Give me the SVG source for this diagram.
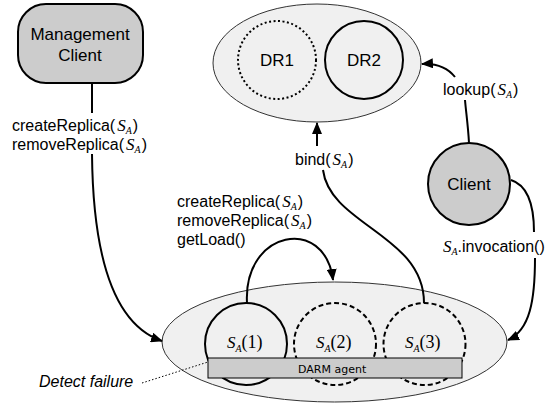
<svg xmlns="http://www.w3.org/2000/svg" width="556" height="405" viewBox="0 0 556 405">
<style>
  .node { fill: #cccccc; stroke: #000; stroke-width: 2; }
  .group { fill: #f0f0f0; stroke: #333; stroke-width: 1; }
  .c { fill: none; stroke: #000; stroke-width: 2; }
  .dot { stroke-dasharray: 2 2.5; }
  .dash { stroke-dasharray: 5 3; }
  .t { font-family: "Liberation Sans", Arial, sans-serif; font-size: 17px; fill: #000; text-anchor: middle; }
  .lbl { font-family: "Liberation Sans", Arial, sans-serif; font-size: 16px; fill: #000; }
  .m { font-family: "Liberation Serif", "Times New Roman", serif; font-style: italic; font-size: 17px; }
  .sub { font-family: "Liberation Serif", "Times New Roman", serif; font-style: italic; font-size: 10px; }
  .mr { font-family: "Liberation Serif", "Times New Roman", serif; font-size: 18px; }
  .conn { fill: none; stroke: #000; stroke-width: 2; }
</style>
<defs>
  <marker id="arr" viewBox="0 0 12 10" refX="11" refY="5" markerWidth="12" markerHeight="10" markerUnits="userSpaceOnUse" orient="auto">
    <path d="M0,0 L12,5 L0,10 Z" fill="#000"/>
  </marker>
</defs>

<g id="dr-group">
  <ellipse class="group" cx="317" cy="63" rx="104" ry="59"/>
</g>
<g id="dr1">
  <circle class="c dot" cx="277" cy="60" r="39"/>
  <text class="t" x="277" y="66">DR1</text>
</g>
<g id="dr2">
  <circle class="c" cx="364" cy="60" r="39"/>
  <text class="t" x="364" y="66">DR2</text>
</g>

<g id="management-client">
  <rect class="node" x="18" y="4" width="125" height="79" rx="28" ry="28"/>
  <text class="t" x="80" y="40">Management</text>
  <text class="t" x="80" y="61">Client</text>
</g>

<g id="client">
  <circle class="node" cx="469" cy="184" r="41"/>
  <text class="t" x="469" y="190">Client</text>
</g>

<g id="server-group">
  <ellipse class="group" cx="334.5" cy="342" rx="172.5" ry="60"/>
</g>
<g id="sa1">
  <circle class="c" cx="246" cy="344" r="41"/>
</g>
<g id="sa2">
  <circle class="c dash" cx="335" cy="344" r="41"/>
</g>
<g id="sa3">
  <circle class="c dash" cx="424.5" cy="344" r="41"/>
</g>
<g id="darm-agent">
  <rect x="208" y="358" width="254" height="20" fill="#cccccc" stroke="#000" stroke-width="1"/>
  <text x="298" y="373" font-family="'DejaVu Sans', sans-serif" font-size="11" fill="#000">DARM agent</text>
</g>
<g id="sa-labels">
  <text x="227" y="348"><tspan class="m">S</tspan><tspan class="sub" dy="4">A</tspan><tspan class="mr" dy="-4">(1)</tspan></text>
  <text x="316" y="348"><tspan class="m">S</tspan><tspan class="sub" dy="4">A</tspan><tspan class="mr" dy="-4">(2)</tspan></text>
  <text x="405" y="348"><tspan class="m">S</tspan><tspan class="sub" dy="4">A</tspan><tspan class="mr" dy="-4">(3)</tspan></text>
</g>

<g id="connectors">
  <path class="conn" d="M92 83 V113"/>
  <path class="conn" d="M92 154 C93 260 115 325 162 341" marker-end="url(#arr)"/>
  <path class="conn" d="M247 303 C243 230 325 215 333 280" marker-end="url(#arr)"/>
  <path class="conn" d="M424 303 C424 235 330 225 323 170"/>
  <path class="conn" d="M317 146 V123" marker-end="url(#arr)"/>
  <path class="conn" d="M469 143 C468 125 466 112 465 100"/>
  <path class="conn" d="M455 77 C448 68 438 63 422 64" marker-end="url(#arr)"/>
  <path class="conn" d="M511 180 C530 186 534 210 534 232"/>
  <path class="conn" d="M535 258 C535 300 530 330 508 340" marker-end="url(#arr)"/>
  <path d="M142 383 L208 362" fill="none" stroke="#000" stroke-width="1" stroke-dasharray="1.5 2"/>
</g>

<g id="labels">
  <text class="lbl" x="12" y="131">createReplica(<tspan class="m" dx="2">S</tspan><tspan class="sub" dy="3">A</tspan><tspan dx="1" dy="-3">)</tspan></text>
  <text class="lbl" x="12" y="150">removeReplica(<tspan class="m" dx="2">S</tspan><tspan class="sub" dy="3">A</tspan><tspan dx="1" dy="-3">)</tspan></text>
  <text class="lbl" x="177" y="207">createReplica(<tspan class="m" dx="2">S</tspan><tspan class="sub" dy="3">A</tspan><tspan dx="1" dy="-3">)</tspan></text>
  <text class="lbl" x="177" y="226">removeReplica(<tspan class="m" dx="2">S</tspan><tspan class="sub" dy="3">A</tspan><tspan dx="1" dy="-3">)</tspan></text>
  <text class="lbl" x="177" y="245">getLoad()</text>
  <text class="lbl" x="295" y="165">bind(<tspan class="m" dx="2">S</tspan><tspan class="sub" dy="3">A</tspan><tspan dx="1" dy="-3">)</tspan></text>
  <text class="lbl" x="443" y="95">lookup(<tspan class="m" dx="2">S</tspan><tspan class="sub" dy="3">A</tspan><tspan dx="1" dy="-3">)</tspan></text>
  <text class="lbl" x="443" y="252"><tspan class="m">S</tspan><tspan class="sub" dy="3">A</tspan><tspan dy="-3">.invocation()</tspan></text>
  <text class="lbl" x="39" y="387" font-style="italic">Detect failure</text>
</g>
</svg>
